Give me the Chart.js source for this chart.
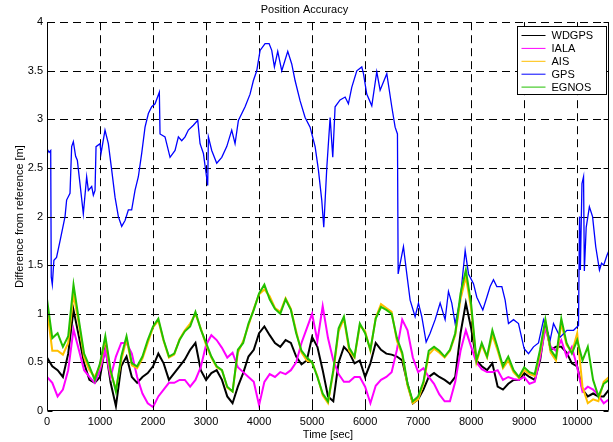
<!DOCTYPE html>
<html>
<head>
<meta charset="utf-8">
<script src="https://cdn.jsdelivr.net/npm/chart.js@4.4.0/dist/chart.umd.min.js"></script>
<style>
  html, body { margin: 0; padding: 0; background: #fff; }
  #wrap { width: 613px; height: 442px; }
</style>
</head>
<body>
<div id="wrap"><canvas id="accuracyChart"></canvas></div>
<script>
// sample times (sec) for the differential solutions
const timeSec = [];
for (let t = 0; t <= 10600; t += 100) timeSec.push(t);

const wdgps = [0.55,0.46,0.42,0.35,0.59,1.04,0.77,0.49,0.32,0.29,
  0.35,0.66,0.29,0.05,0.46,0.56,0.35,0.29,0.35,0.39,
  0.46,0.59,0.49,0.32,0.39,0.46,0.53,0.63,0.70,0.42,
  0.32,0.39,0.42,0.32,0.15,0.08,0.25,0.39,0.56,0.63,
  0.80,0.87,0.78,0.70,0.66,0.73,0.70,0.56,0.48,0.52,
  0.76,0.66,0.42,0.15,0.10,0.50,0.66,0.60,0.49,0.52,
  0.35,0.49,0.70,0.63,0.59,0.58,0.56,0.52,0.28,0.08,
  0.12,0.22,0.35,0.39,0.35,0.32,0.28,0.35,0.80,1.11,
  0.85,0.52,0.46,0.42,0.49,0.25,0.22,0.28,0.32,0.32,
  0.39,0.35,0.32,0.52,0.90,0.63,0.66,0.66,0.60,0.49,
  0.46,0.22,0.15,0.18,0.15,0.15,0.22];

const iala = [0.35,0.29,0.15,0.22,0.42,0.84,0.63,0.42,0.35,0.29,
  0.42,0.63,0.35,0.56,0.70,0.70,0.59,0.35,0.18,0.08,
  0.04,0.15,0.22,0.29,0.29,0.32,0.32,0.25,0.32,0.45,
  0.68,0.78,0.73,0.65,0.55,0.60,0.45,0.40,0.35,0.30,
  0.06,0.30,0.38,0.35,0.40,0.38,0.42,0.50,0.70,0.85,
  1.00,0.72,1.08,0.75,0.52,0.38,0.30,0.30,0.35,0.35,
  0.25,0.08,0.26,0.32,0.35,0.40,0.63,0.94,0.83,0.55,
  0.40,0.44,0.35,0.28,0.17,0.10,0.10,0.30,0.62,0.83,
  0.66,0.50,0.43,0.40,0.40,0.42,0.32,0.35,0.33,0.32,
  0.35,0.28,0.30,0.55,0.85,0.66,0.62,0.73,0.56,0.66,
  0.45,0.20,0.25,0.22,0.16,0.08,0.12];

const ais = [1.05,0.62,0.62,0.58,0.70,1.20,0.90,0.55,0.42,0.35,
  0.47,0.74,0.40,0.22,0.52,0.74,0.47,0.44,0.54,0.70,
  0.86,0.93,0.72,0.55,0.58,0.74,0.83,0.90,1.00,0.85,
  0.68,0.55,0.45,0.42,0.24,0.20,0.60,0.72,0.88,1.05,
  1.20,1.25,1.18,1.06,1.02,1.16,1.05,0.82,0.60,0.52,
  0.50,0.36,0.16,0.08,0.40,0.82,0.95,0.62,0.55,0.88,
  0.82,0.62,0.96,1.10,1.06,1.02,0.72,0.58,0.26,0.08,
  0.12,0.28,0.58,0.64,0.60,0.55,0.62,0.78,1.15,1.38,
  1.05,0.50,0.68,0.55,0.78,0.62,0.44,0.52,0.40,0.34,
  0.42,0.38,0.36,0.60,0.92,0.60,0.52,0.90,0.68,0.60,
  0.80,0.25,0.08,0.12,0.10,0.30,0.35];

const egnos = [1.15,0.75,0.80,0.66,0.77,1.30,0.94,0.59,0.46,0.32,
  0.49,0.77,0.42,0.20,0.56,0.77,0.49,0.46,0.56,0.73,
  0.87,0.95,0.73,0.56,0.59,0.73,0.82,0.87,1.02,0.84,
  0.70,0.56,0.46,0.42,0.25,0.20,0.63,0.70,0.90,1.04,
  1.21,1.30,1.15,1.05,1.00,1.15,1.04,0.80,0.62,0.55,
  0.50,0.35,0.18,0.10,0.42,0.85,0.97,0.65,0.56,0.90,
  0.80,0.63,0.95,1.07,1.04,1.00,0.75,0.60,0.28,0.10,
  0.15,0.30,0.62,0.66,0.62,0.56,0.63,0.80,1.21,1.45,
  1.10,0.52,0.70,0.56,0.83,0.65,0.46,0.56,0.42,0.35,
  0.45,0.40,0.38,0.63,0.94,0.63,0.55,0.95,0.70,0.59,
  0.73,0.52,0.66,0.32,0.15,0.28,0.32];

// stand-alone GPS, sampled where the trace turns
const gpsTime = [0,40,70,80,100,130,180,250,340,370,434,465,497,540,572,620,685,748,780,843,
  874,906,925,1000,1019,1094,1157,1220,1283,1346,1409,1472,1535,1597,1660,1723,1786,1849,1912,1975,
  2038,2119,2132,2226,2321,2415,2478,2541,2604,2666,2761,2843,2887,2950,3031,3044,3107,3201,3296,3390,
  3484,3547,3610,3736,3830,3893,3956,4019,4113,4189,4239,4289,4352,4428,4541,4616,4679,4774,4868,4962,
  5057,5119,5182,5220,5277,5340,5390,5434,5528,5623,5685,5748,5843,5937,5969,6031,6126,6220,6283,6409,
  6503,6566,6610,6623,6723,6786,6849,6943,7006,7069,7151,7226,7321,7415,7509,7572,7635,7698,7792,7887,
  7950,8044,8107,8220,8296,8358,8421,8484,8579,8641,8704,8799,8893,9000,9082,9176,9270,9365,9491,9553,
  9679,9805,9931,10025,10044,10060,10090,10120,10135,10170,10230,10290,10350,10420,10460,10500,10560,10600];
const gpsError = [2.70,2.66,2.68,1.38,1.30,1.55,1.58,1.76,2.00,2.17,2.24,2.72,2.77,2.62,2.58,2.35,2.03,2.41,2.27,2.31,
  2.22,2.27,2.72,2.75,2.65,2.89,2.75,2.48,2.20,2.00,1.90,1.96,2.07,2.07,2.27,2.41,2.65,2.92,3.06,3.13,
  3.16,3.28,2.85,2.82,2.61,2.68,2.82,2.78,2.82,2.89,2.94,2.99,2.75,2.65,2.32,2.82,2.68,2.55,2.61,2.72,
  2.89,2.75,2.99,3.13,3.26,3.40,3.50,3.71,3.78,3.78,3.71,3.54,3.70,3.50,3.70,3.57,3.40,3.19,3.02,2.92,
  2.72,2.48,2.17,1.89,2.50,3.02,2.61,3.13,3.20,3.23,3.16,3.33,3.50,3.54,3.47,3.26,3.14,3.49,3.30,3.47,
  3.13,2.92,2.85,1.41,1.69,1.41,1.14,0.97,1.11,0.97,0.71,0.80,0.94,1.11,0.94,1.23,1.11,0.90,1.14,1.65,
  1.41,1.31,1.17,1.04,1.17,1.28,1.35,1.28,1.28,1.14,0.90,0.94,0.90,0.64,0.59,0.66,0.70,0.94,0.73,0.90,
  0.76,0.83,0.83,0.88,2.00,1.45,2.34,2.41,1.44,1.89,2.10,2.00,1.69,1.45,1.52,1.50,1.60,1.65];

const xTickValues = [0,1000,2000,3000,4000,5000,6000,7000,8000,9000,10000];
const yTickValues = [0,0.5,1,1.5,2,2.5,3,3.5,4];
const xMax = 10600;

function pts(xs, ys) {
  return xs.map((x, i) => ({ x: x, y: ys[i] }));
}

const FONT = '"Liberation Sans", Arial, Helvetica, sans-serif';

// dashed Matlab style grid, box and legend
const matlabFrame = {
  id: 'matlabFrame',
  beforeDatasetsDraw(chart) {
    const { ctx, chartArea: a, scales } = chart;
    ctx.save();
    ctx.strokeStyle = '#000';
    ctx.lineWidth = 1;
    ctx.setLineDash([8, 5]);
    scales.x.ticks.forEach(t => {
      if (t.value === 0) return;
      const px = Math.round(scales.x.getPixelForValue(t.value)) + 0.5;
      ctx.beginPath(); ctx.moveTo(px, a.top); ctx.lineTo(px, a.bottom); ctx.stroke();
    });
    scales.y.ticks.forEach(t => {
      if (t.value === 0) return;
      const py = Math.round(scales.y.getPixelForValue(t.value)) + 0.5;
      ctx.beginPath(); ctx.moveTo(a.left, py); ctx.lineTo(a.right, py); ctx.stroke();
    });
    ctx.restore();
  },
  afterDatasetsDraw(chart) {
    const { ctx, chartArea: a, scales } = chart;
    ctx.save();
    ctx.strokeStyle = '#000';
    ctx.lineWidth = 1;
    const L = Math.round(a.left) + 0.5, R = Math.round(a.right) - 0.5;
    const T = Math.round(a.top) + 0.5, B = Math.round(a.bottom) - 0.5;
    ctx.beginPath();
    ctx.moveTo(L, T); ctx.lineTo(L, B); ctx.lineTo(R, B); ctx.lineTo(R, T);
    ctx.stroke();
    // inward tick marks
    ctx.beginPath();
    scales.x.ticks.forEach(t => {
      const px = Math.round(scales.x.getPixelForValue(t.value)) + 0.5;
      ctx.moveTo(px, B); ctx.lineTo(px, B - 5);
      ctx.moveTo(px, T); ctx.lineTo(px, T + 5);
    });
    scales.y.ticks.forEach(t => {
      const py = Math.round(scales.y.getPixelForValue(t.value)) + 0.5;
      ctx.moveTo(L, py); ctx.lineTo(L + 5, py);
      ctx.moveTo(R, py); ctx.lineTo(R - 5, py);
    });
    ctx.stroke();

    // legend box in the upper right corner
    const bx = 517.5, by = 26.5, bw = 89, bh = 68;
    ctx.fillStyle = '#fff';
    ctx.fillRect(bx, by, bw, bh);
    ctx.strokeRect(bx, by, bw, bh);
    ctx.font = '11px ' + FONT;
    ctx.textBaseline = 'middle';
    chart.data.datasets.forEach((ds, i) => {
      const yy = by + 9 + i * 12.9;
      ctx.strokeStyle = ds.borderColor;
      ctx.lineWidth = 1;
      ctx.beginPath(); ctx.moveTo(bx + 4, yy); ctx.lineTo(bx + 28, yy); ctx.stroke();
      ctx.fillStyle = '#000';
      ctx.fillText(ds.label, bx + 34, yy + 0.5);
    });
    ctx.restore();
  }
};

function initAccuracyChart() {
  const ctx = document.getElementById('accuracyChart').getContext('2d');
  Chart.defaults.font.family = FONT;
  Chart.defaults.font.size = 11;
  Chart.defaults.color = '#000';

  const line = (label, color, xs, ys, order, width) => ({
    label: label,
    data: pts(xs, ys),
    borderColor: color,
    backgroundColor: color,
    borderWidth: width,
    pointRadius: 0,
    tension: 0,
    fill: false,
    order: order
  });

  new Chart(ctx, {
    type: 'line',
    data: {
      datasets: [
        line('WDGPS', '#000000', timeSec, wdgps, 4, 2),
        line('IALA', '#ff00ff', timeSec, iala, 3, 2),
        line('AIS', '#ffbf00', timeSec, ais, 2, 2),
        line('GPS', '#0000ff', gpsTime, gpsError, 1, 1.3),
        line('EGNOS', '#22c000', timeSec, egnos, 0, 2)
      ]
    },
    options: {
      responsive: true,
      maintainAspectRatio: false,
      animation: false,
      layout: { padding: { left: 0, right: 4, top: 0, bottom: 0 } },
      plugins: {
        legend: { display: false },
        tooltip: { enabled: false },
        title: {
          display: true,
          text: 'Position Accuracy',
          font: { size: 11, weight: 'normal' },
          color: '#000',
          padding: { top: 3, bottom: 6 }
        }
      },
      scales: {
        x: {
          type: 'linear',
          min: 0,
          max: xMax,
          afterFit: s => { s.height = 31; },
          afterBuildTicks: s => { s.ticks = xTickValues.map(v => ({ value: v })); },
          grid: { display: false, drawTicks: false },
          border: { display: false },
          ticks: {
            autoSkip: false,
            maxRotation: 0,
            padding: 4,
            callback: v => String(v)
          },
          title: { display: true, text: 'Time [sec]', padding: { top: 3, bottom: 0 } }
        },
        y: {
          min: 0,
          max: 4,
          afterFit: s => { s.width = 47; },
          afterBuildTicks: s => { s.ticks = yTickValues.map(v => ({ value: v })); },
          grid: { display: false, drawTicks: false },
          border: { display: false },
          ticks: { autoSkip: false, padding: 4, callback: v => String(v) },
          title: { display: true, text: 'Difference from reference [m]', padding: { top: 13, bottom: 0 } }
        }
      }
    },
    plugins: [matlabFrame]
  });
}

document.addEventListener('DOMContentLoaded', initAccuracyChart);
</script>
</body>
</html>
